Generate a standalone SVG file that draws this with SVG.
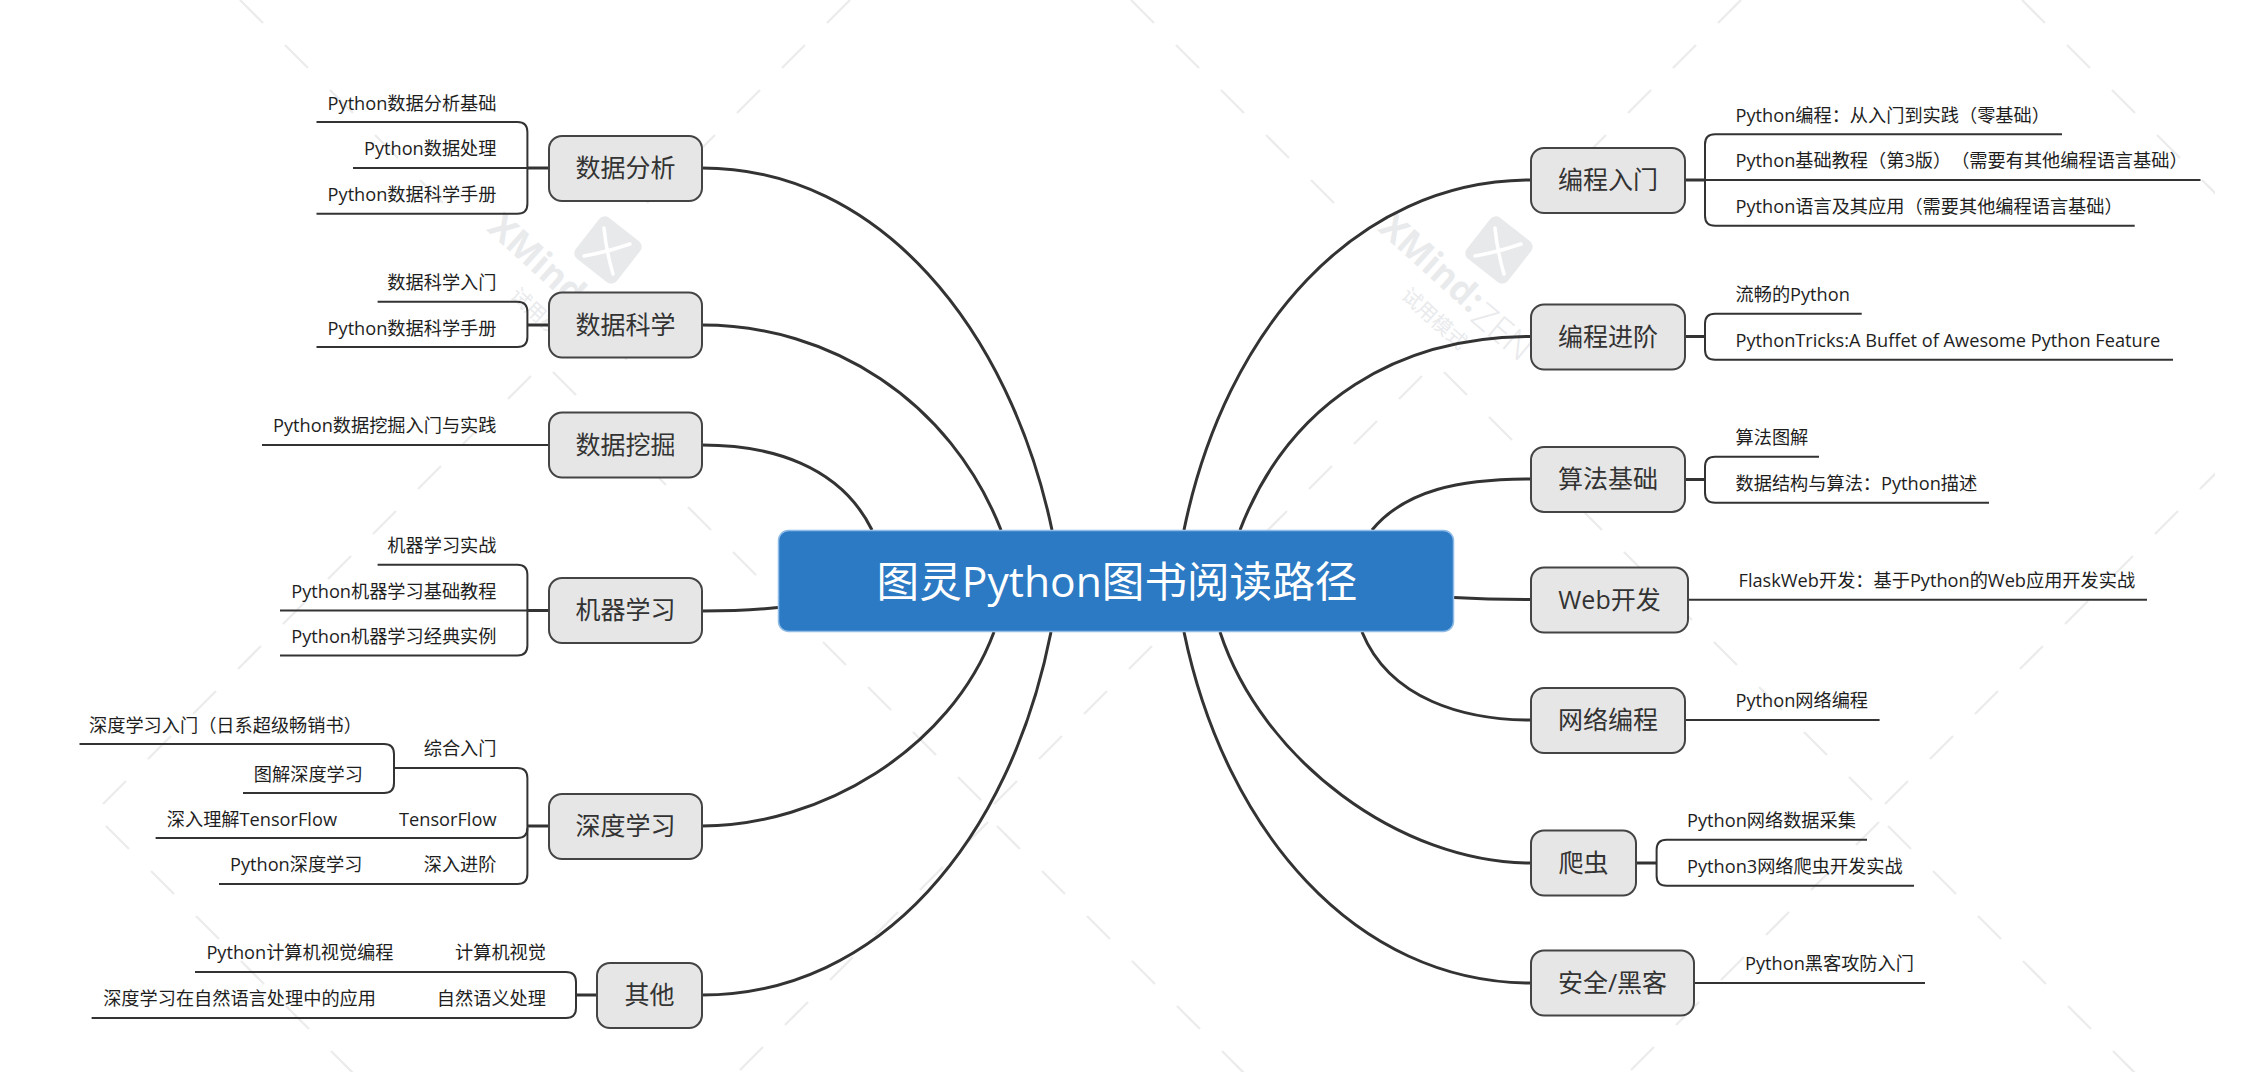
<svg xmlns="http://www.w3.org/2000/svg" xmlns:xlink="http://www.w3.org/1999/xlink" width="2252" height="1072" viewBox="0 0 2252 1072">
<style>
text{font-family:"Open Sans","Noto Sans CJK SC",sans-serif;text-spacing-trim:space-all}
.dash{fill:none;stroke:#ececec;stroke-width:2.4}
.wmb{font-size:36px;font-weight:700;fill:#e9eaec}
.wml{font-size:36px;font-weight:300;fill:#e9eaec}
.wmc{font-size:20px;fill:#e9eaec}
.curve{fill:none;stroke:#333;stroke-width:3;stroke-linecap:butt}
.line{fill:none;stroke:#333;stroke-width:2}
.stub{fill:none;stroke:#333;stroke-width:3}
.node{fill:#e6e6e6;stroke:#444;stroke-width:2}
.nt{font-size:25px;fill:#333;text-anchor:middle}
.lf{font-size:18.2px;fill:#1e1e1e}
.e{text-anchor:end}
</style>
<defs>
<clipPath id="wmclip"><rect x="0" y="0" width="2215" height="1072"/></clipPath>
<path id="a" d="M240 0l23 23M285 45l23 23M330 90l23 23M375 135l23 23M420 180l23 23"/>
<path id="b" d="M553 372l23 23M598 417l23 23M643 462l23 23M688 507l23 23M733 552l23 23M778 597l23 23M823 642l23 23M868 687l23 23M913 732l23 23M958 777l23 23"/>
<path id="c" d="M106 826l23 23M151 871l23 23M196 916l23 23M241 961l23 23M286 1006l23 23M331 1051l23 23"/>
<path id="s1" d="M850 0l-23 23M805 45l-23 23M760 90l-23 23M715 135l-23 23M670 180l-23 23"/>
<path id="s2" d="M531 376l-23 23M486 421l-23 23M441 466l-23 23M396 511l-23 23M351 556l-23 23M306 601l-23 23M261 646l-23 23M216 691l-23 23M171 736l-23 23M126 781l-23 23"/>
<path id="s3" d="M988 822l-23 23M943 867l-23 23M898 912l-23 23M853 957l-23 23M808 1002l-23 23M763 1047l-23 23"/>
<g id="mark">
<g transform="translate(608 250) rotate(38)">
<rect x="-26" y="-26" width="52" height="52" rx="7" fill="#e8e9eb"/>
</g>
<path d="M604 228Q606 250 613 274M584 256Q607 252 630 244" fill="none" stroke="#fff" stroke-width="3.5" stroke-linecap="round"/>
<text class="wmb" transform="translate(486 230) rotate(42)">XMind:</text>
<text class="wml" transform="translate(578 320) rotate(40)">ZEN</text>
<text class="wmc" transform="translate(509 297) rotate(42)">试用模式</text>
</g>
</defs>
<rect width="2252" height="1072" fill="#fff"/>
<g id="watermark" clip-path="url(#wmclip)">
<g class="dash">
<use xlink:href="#a"/><use xlink:href="#a" x="891"/><use xlink:href="#a" x="1782"/>
<use xlink:href="#b"/><use xlink:href="#b" x="891"/>
<use xlink:href="#c"/><use xlink:href="#c" x="891"/><use xlink:href="#c" x="1782"/>
<use xlink:href="#s1"/><use xlink:href="#s1" x="891"/>
<use xlink:href="#s2"/><use xlink:href="#s2" x="891"/><use xlink:href="#s2" x="1782"/>
<use xlink:href="#s3"/><use xlink:href="#s3" x="891"/>
</g>
<use xlink:href="#mark"/><use xlink:href="#mark" x="891"/>
</g>
<g id="connectors">
<path class="curve" d="M702 168C880 168 1010 330 1052 530"/>
<path class="curve" d="M702 325C830 325 950 400 1001 530"/>
<path class="curve" d="M702 445C770 445 840 465 872 530"/>
<path class="curve" d="M702 611C730 611 755 610 778 607.5"/>
<path class="curve" d="M702 826C820 826 950 750 994 632"/>
<path class="curve" d="M702 995C880 995 1010 840 1051 632"/>
<path class="curve" d="M1531 180C1355 180 1225 330 1184 530"/>
<path class="curve" d="M1531 336.500C1400 336.500 1290 400 1240 530"/>
<path class="curve" d="M1531 479C1460 479 1405 490 1372 530"/>
<path class="curve" d="M1454 597.500C1480 599 1505 599.500 1531 599.500"/>
<path class="curve" d="M1531 720C1465 720 1390 700 1362 632"/>
<path class="curve" d="M1531 863C1400 863 1262 760 1220 632"/>
<path class="curve" d="M1531 983C1355 983 1225 830 1184 632"/>
<path class="line" d="M316.500 122H517.400Q527.400 122 527.400 132V203.700Q527.400 213.700 517.400 213.700H316.500"/>
<path class="line" d="M353 168H527"/><path class="stub" d="M527 168H549"/>
<path class="line" d="M377.600 301.700H517.400Q527.400 301.700 527.400 311.700V337Q527.400 347 517.400 347H316.500"/>
<path class="stub" d="M527 325H549"/>
<path class="line" d="M262 445H549"/>
<path class="line" d="M377.600 564.700H517.400Q527.400 564.700 527.400 574.700V645.600Q527.400 655.600 517.400 655.600H280"/>
<path class="line" d="M280 610.500H527"/><path class="stub" d="M527 610.500H549"/>
<path class="line" d="M395 768H517.400Q527.400 768 527.400 778V828Q527.400 838 517.400 838H155.600"/>
<path class="line" d="M527.400 828V874Q527.400 884 517.400 884H219"/>
<path class="stub" d="M527 826H549"/>
<path class="line" d="M79.500 744H384Q394 744 394 754V783Q394 793 384 793H243"/>
<path class="line" d="M195 972H566Q576 972 576 982V1008Q576 1018 566 1018H91.600"/>
<path class="stub" d="M576 995H597"/>
<path class="line" d="M2062 134.300H1715Q1705 134.300 1705 144.300V215.700Q1705 225.700 1715 225.700H2134.700"/>
<path class="stub" d="M1685 180H1705"/><path class="line" d="M1705 180H2200.500"/>
<path class="line" d="M1861.700 313.700H1715Q1705 313.700 1705 323.700V349.700Q1705 359.700 1715 359.700H2173"/>
<path class="stub" d="M1685 336.500H1705"/>
<path class="line" d="M1819 456.700H1715Q1705 456.700 1705 466.700V492.700Q1705 502.700 1715 502.700H1989"/>
<path class="stub" d="M1685 479.500H1705"/>
<path class="line" d="M1688 599.700H2147"/>
<path class="line" d="M1685 720H1879.600"/>
<path class="line" d="M1867 839.700H1666.600Q1656.600 839.700 1656.600 849.700V875.700Q1656.600 885.700 1666.600 885.700H1914"/>
<path class="stub" d="M1636 863H1656.600"/>
<path class="line" d="M1694 983H1925"/>
</g>
<g id="root"><rect x="778.500" y="530.500" width="675" height="101" rx="10" fill="#2b7ac3" stroke="#8fbce6" stroke-width="1.500"/><text x="1117" y="597" font-size="42.600" fill="#fff" text-anchor="middle">图灵Python图书阅读路径</text></g>
<g id="n-shujufenxi"><rect class="node" x="549" y="136" width="153" height="65" rx="13"/><text class="nt" x="625.500" y="177">数据分析</text></g>
<g id="n-shujukexue"><rect class="node" x="549" y="292.500" width="153" height="65" rx="13"/><text class="nt" x="625.500" y="334">数据科学</text></g>
<g id="n-shujuwajue"><rect class="node" x="549" y="412.500" width="153" height="65" rx="13"/><text class="nt" x="625.500" y="454">数据挖掘</text></g>
<g id="n-jiqixuexi"><rect class="node" x="549" y="578" width="153" height="65" rx="13"/><text class="nt" x="625.500" y="619">机器学习</text></g>
<g id="n-shenduxuexi"><rect class="node" x="549" y="794" width="153" height="65" rx="13"/><text class="nt" x="625.500" y="835">深度学习</text></g>
<g id="n-qita"><rect class="node" x="597" y="963" width="105" height="65" rx="13"/><text class="nt" x="649.500" y="1004">其他</text></g>
<g id="n-rumen"><rect class="node" x="1531" y="148" width="154" height="65" rx="13"/><text class="nt" x="1608" y="189">编程入门</text></g>
<g id="n-jinjie"><rect class="node" x="1531" y="304.500" width="154" height="65" rx="13"/><text class="nt" x="1608" y="345.500">编程进阶</text></g>
<g id="n-suanfa"><rect class="node" x="1531" y="447" width="154" height="65" rx="13"/><text class="nt" x="1608" y="488">算法基础</text></g>
<g id="n-web"><rect class="node" x="1531" y="567.500" width="157" height="65" rx="13"/><text class="nt" x="1609.500" y="608.500">Web开发</text></g>
<g id="n-wangluo"><rect class="node" x="1531" y="688" width="154" height="65" rx="13"/><text class="nt" x="1608" y="729">网络编程</text></g>
<g id="n-pachong"><rect class="node" x="1531" y="830.500" width="105" height="65" rx="13"/><text class="nt" x="1583.500" y="872">爬虫</text></g>
<g id="n-anquan"><rect class="node" x="1531" y="950.500" width="163" height="65" rx="13"/><text class="nt" x="1612.500" y="992">安全/黑客</text></g>
<g id="leaves" class="lf">
<g id="l1"><text class="e" x="496.500" y="109.500">Python数据分析基础</text></g>
<g id="l2"><text class="e" x="496.500" y="155">Python数据处理</text></g>
<g id="l3"><text class="e" x="496.500" y="201">Python数据科学手册</text></g>
<g id="l4"><text class="e" x="496.500" y="289">数据科学入门</text></g>
<g id="l5"><text class="e" x="496.500" y="334.500">Python数据科学手册</text></g>
<g id="l6"><text class="e" x="496.500" y="432">Python数据挖掘入门与实践</text></g>
<g id="l7"><text class="e" x="496.500" y="552">机器学习实战</text></g>
<g id="l8"><text class="e" x="496.500" y="597.500">Python机器学习基础教程</text></g>
<g id="l9"><text class="e" x="496.500" y="643">Python机器学习经典实例</text></g>
<g id="l10"><text x="89" y="731.500">深度学习入门（日系超级畅销书）</text></g>
<g id="l11"><text class="e" x="496.500" y="755">综合入门</text></g>
<g id="l12"><text class="e" x="363" y="780.500">图解深度学习</text></g>
<g id="l13"><text class="e" x="337" y="825.500">深入理解TensorFlow</text></g>
<g id="l14"><text class="e" x="496.500" y="825.500">TensorFlow</text></g>
<g id="l15"><text class="e" x="362.500" y="871">Python深度学习</text></g>
<g id="l16"><text class="e" x="496.500" y="871">深入进阶</text></g>
<g id="l17"><text class="e" x="393.500" y="959">Python计算机视觉编程</text></g>
<g id="l18"><text class="e" x="546" y="959">计算机视觉</text></g>
<g id="l19"><text class="e" x="376" y="1005">深度学习在自然语言处理中的应用</text></g>
<g id="l20"><text class="e" x="546" y="1005">自然语义处理</text></g>
<g id="r1"><text x="1735.500" y="121.500">Python编程：从入门到实践（零基础）</text></g>
<g id="r2"><text x="1735.500" y="167">Python基础教程（第3版）（需要有其他编程语言基础）</text></g>
<g id="r3"><text x="1735.500" y="213">Python语言及其应用（需要其他编程语言基础）</text></g>
<g id="r4"><text x="1735.500" y="301">流畅的Python</text></g>
<g id="r5"><text x="1735.500" y="347">PythonTricks:A Buffet of Awesome Python Feature</text></g>
<g id="r6"><text x="1735.500" y="444">算法图解</text></g>
<g id="r7"><text x="1735.500" y="490">数据结构与算法：Python描述</text></g>
<g id="r8"><text x="1738.500" y="587">FlaskWeb开发：基于Python的Web应用开发实战</text></g>
<g id="r9"><text x="1735.500" y="707">Python网络编程</text></g>
<g id="r10"><text x="1687" y="827">Python网络数据采集</text></g>
<g id="r11"><text x="1687" y="873">Python3网络爬虫开发实战</text></g>
<g id="r12"><text x="1745" y="970">Python黑客攻防入门</text></g>
</g>
</svg>
